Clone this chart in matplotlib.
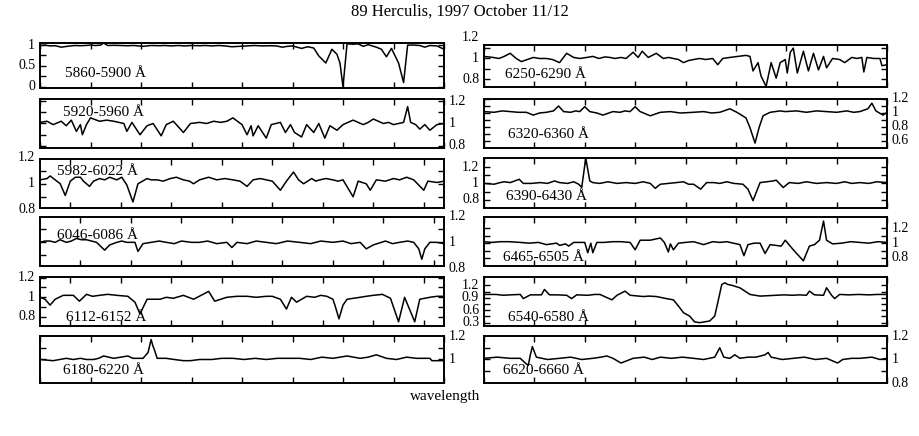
import matplotlib
matplotlib.use("Agg")
import matplotlib.pyplot as plt

plt.rcParams['font.family'] = ['Liberation Serif', 'DejaVu Serif']

# spectrum pieces as (wavelength in A, normalised flux)
sp_5860 = [(5860.0, 0.99), (5860.5, 1.0), (5861.0, 0.98), (5861.5, 0.985), (5862.1, 0.95), (5863.0, 0.98),
           (5863.5, 0.99), (5864.0, 0.985), (5864.5, 0.99), (5865.0, 1.0), (5865.5, 0.99), (5866.0, 1.0),
           (5866.3, 1.05), (5866.7, 0.99), (5867.3, 0.995), (5868.0, 0.99), (5868.6, 0.985), (5869.3, 0.99),
           (5870.2, 0.97), (5871.0, 0.99), (5871.8, 0.985), (5872.4, 0.99), (5873.0, 0.98), (5873.7, 0.99),
           (5874.3, 0.98), (5875.0, 0.99), (5875.8, 0.985), (5876.4, 0.99), (5877.0, 0.98), (5877.7, 0.99),
           (5878.3, 0.98), (5879.0, 0.96), (5880.5, 0.98), (5881.2, 0.99), (5882.0, 0.98), (5882.8, 0.985),
           (5883.4, 0.98), (5884.0, 0.95), (5884.5, 0.97), (5885.0, 0.98), (5885.9, 0.92), (5886.5, 0.96),
           (5887.1, 0.93), (5887.6, 0.74), (5888.3, 0.57), (5888.9, 0.90), (5889.4, 0.78), (5889.7, 0.57),
           (5890.0, 0.00), (5890.4, 1.03), (5891.0, 1.02), (5891.5, 1.03), (5892.0, 0.97), (5892.5, 1.01),
           (5893.3, 0.95), (5893.8, 0.90), (5894.3, 0.72), (5894.8, 0.92), (5895.5, 0.57), (5896.0, 0.10),
           (5896.4, 1.00), (5897.0, 1.00), (5897.6, 0.99), (5898.1, 0.95), (5898.6, 0.99), (5899.3, 0.98),
           (5900.0, 0.90)]

sp_6250 = [(6250.0, 1.02), (6250.9, 1.01), (6251.5, 1.0), (6252.0, 1.02), (6252.6, 1.05), (6253.2, 1.0),
           (6253.7, 0.97), (6254.3, 0.99), (6254.9, 1.01), (6255.5, 1.0), (6256.2, 1.00), (6256.8, 0.99),
           (6257.5, 0.96), (6258.2, 1.05), (6258.9, 1.01), (6259.5, 1.0), (6260.2, 1.01), (6260.8, 1.02),
           (6261.4, 1.0), (6262.0, 1.015), (6262.5, 1.01), (6263.0, 1.0), (6263.6, 1.01), (6264.1, 1.00),
           (6264.8, 1.06), (6265.3, 1.01), (6265.7, 1.07), (6266.3, 1.01), (6267.1, 1.05), (6267.8, 1.00),
           (6268.3, 1.01), (6268.8, 1.00), (6269.3, 0.99), (6269.8, 0.96), (6270.3, 0.98), (6270.8, 0.99),
           (6271.4, 1.0), (6272.0, 0.99), (6272.7, 1.00), (6273.2, 0.94), (6273.7, 1.00), (6274.4, 1.01),
           (6275.2, 1.02), (6276.0, 1.03), (6276.4, 1.02), (6276.7, 0.88), (6277.2, 0.96), (6277.5, 0.83),
           (6278.0, 0.73), (6278.5, 0.96), (6279.0, 0.81), (6279.4, 0.96), (6279.9, 0.99), (6280.1, 0.86),
           (6280.4, 1.06), (6280.7, 1.10), (6281.1, 0.86), (6281.7, 1.07), (6282.2, 0.88), (6282.7, 1.05),
           (6283.2, 0.89), (6283.7, 1.02), (6284.0, 0.91), (6284.6, 1.00), (6285.3, 0.99), (6285.8, 0.96),
           (6286.5, 1.01), (6287.0, 1.0), (6287.5, 1.01), (6287.7, 0.87), (6288.0, 1.01), (6288.7, 1.0),
           (6289.3, 1.00), (6289.5, 0.93), (6290.0, 0.94)]

sp_5920 = [(5920.0, 1.01), (5920.7, 1.02), (5921.3, 0.99), (5922.1, 1.02), (5922.6, 0.98), (5923.1, 1.03),
           (5923.6, 0.93), (5924.0, 0.99), (5924.2, 0.90), (5924.6, 0.99), (5925.0, 1.05), (5925.3, 1.04),
           (5925.9, 1.02), (5926.6, 1.03), (5927.3, 1.02), (5927.8, 1.01), (5928.3, 1.00), (5928.6, 0.93),
           (5929.1, 1.01), (5929.9, 0.90), (5930.6, 0.98), (5931.2, 1.00), (5932.0, 0.89), (5932.5, 0.99),
           (5933.2, 1.02), (5934.2, 0.92), (5934.9, 1.00), (5935.8, 1.01), (5936.5, 1.0), (5937.2, 1.02),
           (5937.9, 1.01), (5938.5, 1.02), (5939.1, 1.05), (5940.0, 0.99), (5940.5, 0.90), (5940.9, 0.98),
           (5941.1, 0.89), (5941.6, 0.98), (5942.4, 0.87), (5942.9, 0.99), (5943.8, 1.01), (5944.3, 0.92),
           (5944.8, 0.99), (5945.2, 0.92), (5945.9, 0.88), (5946.4, 0.99), (5947.1, 0.92), (5947.6, 1.00),
           (5948.2, 0.87), (5948.7, 0.98), (5949.4, 0.94), (5950.0, 0.99), (5950.5, 1.01), (5951.0, 1.03),
           (5951.5, 1.01), (5952.0, 0.99), (5952.5, 1.01), (5953.0, 1.04), (5953.5, 1.02), (5954.0, 1.00),
           (5954.5, 1.01), (5955.0, 0.99), (5955.5, 1.0), (5956.0, 1.01), (5956.4, 1.15), (5956.7, 1.01),
           (5957.2, 0.99), (5957.6, 0.95), (5958.1, 0.99), (5958.6, 0.94), (5959.3, 0.99), (5960.0, 1.00)]

sp_6320 = [(6320.0, 1.02), (6321.0, 1.01), (6321.8, 1.03), (6322.6, 1.02), (6323.4, 1.01), (6324.2, 1.01),
           (6324.9, 0.97), (6325.5, 1.0), (6326.2, 1.01), (6326.9, 1.03), (6327.4, 1.10), (6327.9, 1.02),
           (6328.6, 1.01), (6329.1, 1.03), (6329.5, 1.02), (6330.0, 1.09), (6330.5, 1.02), (6331.2, 1.0),
           (6331.8, 0.97), (6332.8, 1.02), (6333.5, 1.01), (6334.0, 1.03), (6334.5, 1.02), (6335.0, 1.09),
           (6335.5, 1.02), (6336.5, 0.96), (6337.5, 1.01), (6338.5, 1.02), (6339.5, 1.0), (6340.8, 1.01),
           (6341.8, 1.02), (6342.6, 1.0), (6343.4, 1.01), (6344.4, 1.06), (6345.1, 1.01), (6346.0, 0.93),
           (6346.4, 0.79), (6346.9, 0.57), (6347.3, 0.79), (6347.7, 0.96), (6348.4, 1.01), (6349.4, 1.03),
           (6349.9, 1.02), (6351.0, 1.03), (6352.0, 1.01), (6353.0, 1.03), (6354.0, 1.02), (6355.0, 1.01),
           (6356.0, 1.03), (6356.7, 1.01), (6357.3, 1.02), (6358.1, 1.06), (6358.5, 1.14), (6358.9, 1.03),
           (6359.6, 0.97), (6360.0, 1.01)]

sp_5982 = [(5982.0, 1.03), (5982.7, 1.04), (5983.0, 1.06), (5983.5, 1.03), (5984.0, 1.00), (5984.5, 0.91),
           (5985.0, 1.02), (5985.5, 1.05), (5986.0, 1.05), (5986.3, 1.02), (5986.9, 0.98), (5987.3, 1.02),
           (5987.9, 1.04), (5988.4, 1.03), (5988.9, 1.05), (5989.6, 1.03), (5990.1, 1.05), (5990.6, 0.99),
           (5991.2, 0.86), (5991.7, 1.00), (5992.6, 1.04), (5993.0, 1.03), (5993.6, 1.03), (5994.2, 1.02),
           (5994.9, 1.04), (5995.5, 1.05), (5996.2, 1.03), (5996.8, 1.02), (5997.2, 1.00), (5997.8, 1.03),
           (5998.7, 1.05), (5999.5, 1.03), (6000.3, 1.04), (6001.1, 1.03), (6001.8, 1.02), (6002.5, 0.98),
           (6003.1, 1.03), (6003.8, 1.04), (6004.4, 1.03), (6005.0, 1.02), (6005.8, 0.95), (6006.4, 1.02),
           (6007.1, 1.09), (6007.6, 1.03), (6008.1, 1.00), (6008.9, 1.04), (6009.3, 1.02), (6009.7, 1.03),
           (6010.3, 1.04), (6011.0, 1.03), (6011.5, 1.02), (6012.0, 1.03), (6013.0, 0.90), (6013.5, 1.02),
           (6014.3, 1.00), (6014.7, 0.95), (6015.3, 1.03), (6016.2, 1.02), (6017.0, 1.04), (6017.6, 1.03),
           (6018.3, 1.05), (6019.0, 1.03), (6020.0, 0.95), (6020.4, 1.02), (6021.3, 1.01), (6022.0, 1.02)]

sp_6390 = [(6390.0, 1.00), (6391.0, 0.99), (6391.6, 1.01), (6392.0, 1.02), (6392.6, 1.01), (6393.5, 1.05),
           (6393.9, 1.00), (6394.7, 1.0), (6395.6, 1.01), (6396.3, 1.0), (6397.0, 1.03), (6397.5, 1.01),
           (6398.3, 1.0), (6398.9, 1.02), (6399.4, 0.99), (6399.7, 0.95), (6400.1, 1.31), (6400.5, 1.03),
           (6400.8, 1.01), (6401.5, 1.0), (6402.3, 1.02), (6403.2, 1.0), (6404.1, 1.01), (6405.0, 1.0),
           (6405.8, 1.02), (6406.5, 1.00), (6407.0, 0.94), (6407.5, 0.99), (6408.3, 1.0), (6409.1, 1.01),
           (6409.8, 1.02), (6410.3, 0.99), (6410.8, 0.99), (6411.5, 0.93), (6412.1, 1.01), (6412.8, 1.01),
           (6413.4, 1.0), (6414.1, 1.02), (6414.8, 1.0), (6415.7, 0.99), (6416.2, 0.93), (6416.7, 0.79),
           (6417.4, 1.01), (6418.7, 1.03), (6419.0, 1.04), (6419.7, 0.95), (6420.3, 1.01), (6421.2, 1.0),
           (6422.0, 1.02), (6423.0, 1.0), (6424.0, 1.01), (6425.0, 1.0), (6425.8, 1.02), (6426.5, 1.0),
           (6427.3, 1.01), (6428.2, 1.0), (6429.0, 1.02), (6430.0, 1.01)]

sp_6046 = [(6046.0, 1.00), (6046.5, 1.01), (6047.0, 1.01), (6047.5, 1.0), (6048.0, 1.02), (6048.6, 1.00),
           (6049.1, 1.01), (6049.6, 1.03), (6050.1, 1.02), (6050.6, 1.02), (6051.1, 1.01), (6051.6, 1.00),
           (6052.4, 0.94), (6052.9, 0.98), (6053.6, 1.00), (6054.1, 1.01), (6054.6, 1.00), (6055.4, 1.00),
           (6055.7, 0.93), (6056.2, 0.99), (6057.0, 1.0), (6057.8, 1.01), (6058.5, 1.00), (6059.3, 0.99),
           (6060.0, 1.01), (6061.0, 1.0), (6061.8, 1.00), (6062.6, 1.01), (6063.5, 0.99), (6064.5, 1.00),
           (6065.0, 0.96), (6065.5, 1.00), (6066.5, 0.99), (6067.4, 1.01), (6068.4, 1.00), (6069.4, 0.99),
           (6070.5, 1.01), (6071.7, 1.00), (6072.8, 0.99), (6073.8, 1.01), (6075.0, 1.00), (6076.0, 1.01),
           (6076.8, 0.99), (6077.7, 1.00), (6078.3, 0.95), (6079.0, 0.98), (6080.2, 1.01), (6080.9, 0.99),
           (6081.6, 1.00), (6082.4, 1.01), (6083.0, 1.00), (6083.5, 0.95), (6083.8, 0.87), (6084.1, 0.95),
           (6084.6, 1.00), (6085.3, 1.0), (6086.0, 0.99)]

sp_6465 = [(6465.0, 1.02), (6465.8, 1.01), (6466.6, 1.02), (6467.5, 1.02), (6468.6, 1.01), (6469.5, 1.0),
           (6470.4, 1.01), (6471.2, 0.98), (6472.2, 1.00), (6472.5, 0.97), (6473.1, 0.99), (6473.4, 0.96),
           (6473.9, 1.01), (6475.0, 1.01), (6475.3, 0.87), (6475.6, 1.00), (6475.8, 0.87), (6476.2, 1.01),
           (6476.9, 1.01), (6477.8, 1.02), (6478.6, 1.02), (6479.5, 1.01), (6480.0, 0.91), (6480.5, 1.04),
           (6481.5, 1.04), (6482.5, 1.07), (6482.9, 1.01), (6483.3, 0.88), (6483.5, 0.99), (6483.8, 0.91),
           (6484.3, 1.00), (6485.0, 1.01), (6485.8, 1.02), (6486.8, 0.98), (6487.7, 1.02), (6488.4, 1.01),
           (6489.1, 1.02), (6490.4, 0.98), (6490.8, 0.83), (6491.2, 0.98), (6491.8, 1.0), (6492.4, 1.00),
           (6492.9, 0.86), (6493.4, 0.98), (6494.5, 0.96), (6494.9, 1.04), (6495.7, 0.91), (6496.7, 0.76),
           (6497.3, 0.96), (6497.8, 0.98), (6498.3, 1.04), (6498.7, 1.30), (6499.0, 1.04), (6499.6, 0.99),
           (6500.5, 1.0), (6501.4, 1.02), (6502.3, 1.01), (6503.2, 1.0), (6504.1, 1.02), (6505.0, 1.01)]

sp_6112 = [(6112.0, 1.00), (6112.5, 0.98), (6113.0, 0.92), (6113.5, 0.98), (6114.3, 1.02), (6115.3, 1.02),
           (6115.9, 0.96), (6116.6, 1.03), (6117.2, 1.01), (6117.9, 1.02), (6118.7, 1.03), (6119.6, 1.02),
           (6120.7, 1.01), (6121.4, 0.95), (6121.9, 0.83), (6122.6, 0.98), (6123.9, 0.98), (6124.5, 1.0),
           (6125.2, 0.99), (6126.2, 1.02), (6127.2, 0.98), (6128.7, 1.06), (6129.3, 0.96), (6130.5, 1.00),
           (6131.5, 1.01), (6132.5, 1.01), (6133.4, 1.0), (6134.4, 1.01), (6135.0, 1.01), (6135.8, 0.98),
           (6136.4, 0.88), (6136.9, 1.00), (6137.4, 0.95), (6138.4, 1.01), (6139.2, 1.0), (6139.8, 1.02),
           (6140.4, 1.01), (6141.0, 0.98), (6141.2, 0.92), (6141.6, 0.78), (6142.0, 0.92), (6142.4, 0.98),
           (6143.7, 1.00), (6144.3, 1.01), (6145.0, 1.02), (6145.9, 1.03), (6146.7, 0.99), (6147.5, 0.75),
           (6148.1, 1.00), (6149.1, 0.75), (6149.6, 0.98), (6150.6, 1.00), (6151.3, 1.01), (6152.0, 1.01)]

sp_6540 = [(6540.0, 0.98), (6541.2, 0.98), (6541.9, 0.96), (6542.6, 0.97), (6543.6, 0.98), (6543.9, 0.88),
           (6544.6, 0.97), (6545.7, 0.97), (6546.0, 1.10), (6546.5, 0.97), (6547.3, 0.97), (6548.2, 0.96),
           (6548.7, 0.88), (6549.2, 0.97), (6550.3, 0.96), (6551.0, 0.98), (6551.5, 0.98), (6552.7, 0.85),
           (6553.2, 0.96), (6554.0, 1.06), (6554.5, 0.96), (6555.8, 0.93), (6556.4, 0.94), (6557.1, 0.93),
           (6558.1, 0.88), (6558.8, 0.85), (6559.3, 0.70), (6559.8, 0.54), (6560.4, 0.46), (6560.9, 0.32),
           (6561.4, 0.30), (6562.4, 0.34), (6562.9, 0.46), (6563.2, 0.78), (6563.6, 1.22), (6563.9, 1.26),
           (6564.2, 1.22), (6564.6, 1.20), (6565.4, 1.14), (6566.4, 0.98), (6567.4, 0.94), (6568.2, 0.95),
           (6569.0, 0.96), (6569.8, 0.97), (6570.6, 0.96), (6571.3, 0.97), (6572.0, 0.96), (6572.3, 1.06),
           (6572.8, 0.97), (6573.7, 0.96), (6574.0, 1.14), (6574.5, 0.96), (6574.8, 0.88), (6575.3, 0.98),
           (6576.2, 0.97), (6577.2, 0.98), (6578.2, 0.97), (6579.1, 0.98), (6580.0, 0.98)]

sp_6180 = [(6180.0, 1.00), (6181.3, 0.99), (6182.6, 1.01), (6183.3, 1.0), (6184.0, 1.01), (6184.6, 1.0),
           (6185.3, 1.00), (6185.8, 1.01), (6186.3, 1.03), (6187.3, 1.01), (6188.7, 1.03), (6189.2, 1.01),
           (6190.2, 1.01), (6190.7, 1.06), (6191.0, 1.17), (6191.2, 1.11), (6191.3, 1.09), (6191.6, 1.01),
           (6192.5, 1.01), (6193.3, 1.0), (6194.2, 0.99), (6194.9, 0.99), (6195.8, 1.00), (6197.0, 1.0),
           (6198.0, 1.01), (6199.1, 1.01), (6200.2, 1.0), (6201.3, 1.01), (6202.4, 1.00), (6203.5, 1.01),
           (6204.8, 1.01), (6205.7, 1.01), (6206.8, 1.0), (6207.9, 1.02), (6209.0, 1.01), (6210.4, 1.03),
           (6211.7, 1.01), (6212.5, 1.02), (6213.3, 1.04), (6214.3, 1.01), (6215.3, 1.0), (6216.3, 1.02),
           (6217.3, 1.01), (6218.6, 1.01), (6218.8, 0.99), (6220.0, 0.99)]

sp_6620 = [(6620.0, 1.01), (6621.3, 1.02), (6622.6, 1.01), (6623.6, 1.01), (6624.1, 0.97), (6624.4, 0.95),
           (6624.6, 1.04), (6624.8, 1.11), (6625.2, 1.02), (6626.3, 1.0), (6627.5, 1.01), (6628.6, 1.02),
           (6629.7, 1.0), (6630.8, 1.01), (6631.6, 1.02), (6632.2, 1.03), (6632.8, 1.01), (6633.6, 0.97),
           (6634.8, 1.01), (6635.9, 1.02), (6636.7, 1.0), (6637.5, 1.02), (6638.6, 1.01), (6639.7, 1.02),
           (6640.8, 1.01), (6641.8, 1.0), (6642.9, 1.02), (6643.4, 1.10), (6643.8, 1.02), (6644.4, 1.01),
           (6644.9, 1.04), (6645.4, 1.01), (6646.2, 1.02), (6647.0, 1.02), (6647.9, 1.04), (6648.2, 1.06),
           (6648.5, 1.02), (6649.6, 1.0), (6650.7, 1.01), (6651.8, 1.02), (6652.9, 1.0), (6654.0, 1.01),
           (6655.1, 0.97), (6655.6, 1.00), (6656.5, 1.01), (6657.3, 1.01), (6658.5, 1.02), (6659.3, 1.0),
           (6660.0, 1.01)]

# panel: spectrum, range, ylim, tick labels, label side, box px (l, t, r, b), label x/y (axes fraction)
panels = [
    (sp_5860, 5860, 5900, (-0.03, 1.05), [1, 0.5, 0], 'left', (40, 43, 444, 88), 0.062, 0.33),
    (sp_6250, 6250, 6290, (0.725, 1.13), [1.2, 1, 0.8], 'left', (484, 45, 887, 87), 0.052, 0.29),
    (sp_5920, 5920, 5960, (0.782, 1.218), [1.2, 1, 0.8], 'right', (40, 99, 444, 148), 0.057, 0.72),
    (sp_6320, 6320, 6360, (0.5, 1.2), [1.2, 1, 0.8, 0.6], 'right', (484, 99, 887, 148), 0.06, 0.27),
    (sp_5982, 5982, 6022, (0.814, 1.19), [1.2, 1, 0.8], 'left', (40, 159, 444, 208), 0.042, 0.74),
    (sp_6390, 6390, 6430, (0.7, 1.31), [1.2, 1, 0.8], 'left', (484, 158, 887, 208), 0.055, 0.24),
    (sp_6046, 6046, 6086, (0.818, 1.195), [1.2, 1, 0.8], 'right', (40, 217, 444, 266), 0.042, 0.63),
    (sp_6465, 6465, 6505, (0.69, 1.355), [1.2, 1, 0.8], 'right', (484, 217, 887, 266), 0.047, 0.18),
    (sp_6112, 6112, 6152, (0.707, 1.207), [1.2, 1, 0.8], 'left', (40, 277, 444, 326), 0.065, 0.18),
    (sp_6540, 6540, 6580, (0.22, 1.40), [1.2, 0.9, 0.6, 0.3], 'left', (484, 277, 887, 326), 0.06, 0.18),
    (sp_6180, 6180, 6220, (0.8, 1.2), [1.2, 1], 'right', (40, 336, 444, 383), 0.057, 0.26),
    (sp_6620, 6620, 6660, (0.8, 1.2), [1.2, 1, 0.8], 'right', (484, 336, 887, 383), 0.047, 0.26),
]

W, H = 919, 436
fig = plt.figure(figsize=(W / 100, H / 100), dpi=100)

for sp, w0, w1, ylim, labs, side, (l, t, r, b), tx, ty in panels:
    sp = sorted(sp)
    ax = fig.add_axes([l / W, 1 - b / H, (r - l) / W, (b - t) / H])
    ax.plot([p[0] for p in sp], [p[1] for p in sp], color='black', lw=1.1)
    ax.set_xlim(w0, w1)
    ax.set_ylim(*ylim)
    first = w0 + (-w0) % 5
    ax.set_xticks(range(first, w1 + 1, 5))
    step = abs(labs[0] - labs[1])
    minor = [labs[-1] + k * step / 2 for k in range(2 * len(labs) - 1)]
    ax.set_yticks([v for v in minor if ylim[0] < v < ylim[1]])
    ax.tick_params(direction='in', length=4, width=1, top=True, right=True,
                   labelbottom=False, labelleft=False)
    for s in ax.spines.values():
        s.set_linewidth(1.4)
    # y labels as plain text so they can sit a little outside the frame like the original
    for v in labs:
        if side == 'left':
            ax.text(-0.012, v, f"{v:g}", transform=ax.get_yaxis_transform(), ha='right',
                    va='center', fontsize=10, clip_on=False)
        else:
            ax.text(1.012, v, f"{v:g}", transform=ax.get_yaxis_transform(), ha='left',
                    va='center', fontsize=10, clip_on=False)
    ax.text(tx, ty, f"{w0}-{w1} Å", transform=ax.transAxes, fontsize=11, va='center')

fig.text(460 / W, 1 - 12 / H, "89 Herculis, 1997 October 11/12", ha='center', va='center', fontsize=12)
fig.text(445 / W, 1 - 396 / H, "wavelength", ha='center', va='center', fontsize=11)

fig.savefig("out.png", dpi=100)
